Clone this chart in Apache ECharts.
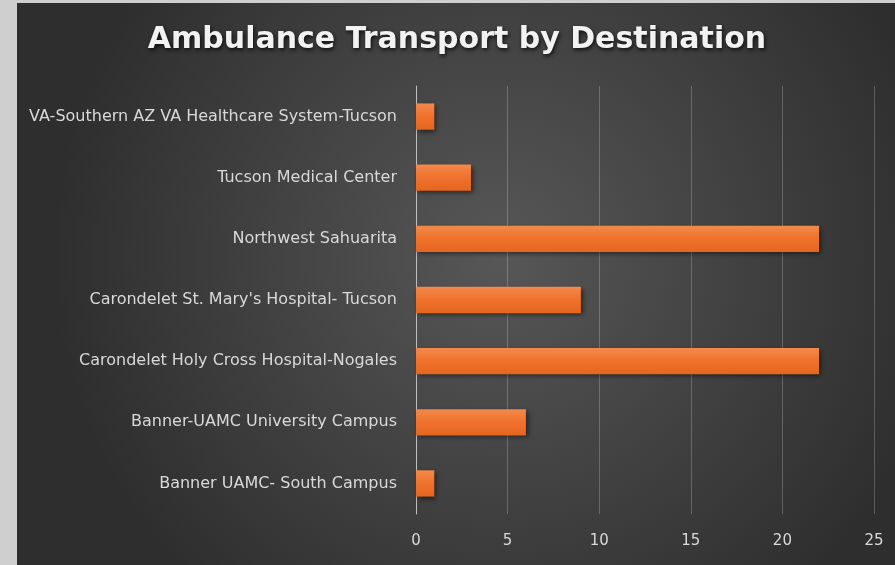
<!DOCTYPE html>
<html>
<head>
<meta charset="utf-8">
<script src="https://cdn.jsdelivr.net/npm/echarts@6/dist/echarts.min.js"></script>
<style>html,body{margin:0;padding:0;background:#cfcfcf}#c{width:895px;height:565px}</style>
</head>
<body>
<div id="c"></div>
<script>
var categories = [
  "Banner UAMC- South Campus",
  "Banner-UAMC University Campus",
  "Carondelet Holy Cross Hospital-Nogales",
  "Carondelet St. Mary's Hospital- Tucson",
  "Northwest Sahuarita",
  "Tucson Medical Center",
  "VA-Southern AZ VA Healthcare System-Tucson"
];
var values = [1, 6, 22, 9, 22, 3, 1];
var xTicks = [0, 5, 10, 15, 20, 25];

var chart = echarts.init(document.getElementById('c'));
chart.setOption({
  animation: false,
  backgroundColor: '#cfcfcf',
  graphic: [
    {type: 'rect', shape: {x: 17, y: 3, width: 878, height: 562}, z: -10,
     style: {fill: new echarts.graphic.RadialGradient(0.55, 0.45, 0.8, [
       {offset: 0, color: '#575757'}, {offset: 1, color: '#2e2e2e'}])}}
  ],
  title: {
    text: 'Ambulance Transport by Destination',
    left: 452, top: 20, textAlign: 'center',
    textStyle: {color: '#f2f2f2', fontFamily: 'DejaVu Sans', fontWeight: 'bold', fontSize: 30,
      textShadowColor: 'rgba(0,0,0,0.8)', textShadowBlur: 4, textShadowOffsetX: 1, textShadowOffsetY: 2}
  },
  grid: {left: 416, right: 21, top: 86, bottom: 51, containLabel: false},
  xAxis: {
    type: 'value', min: 0, max: 25, interval: 5,
    axisLine: {show: false}, axisTick: {show: false},
    axisLabel: {color: '#d9d9d9', fontSize: 15, fontFamily: 'DejaVu Sans', margin: 20,
      formatter: function (v) { return xTicks.indexOf(v) >= 0 ? String(v) : ''; }},
    splitLine: {lineStyle: {color: 'rgba(255,255,255,0.22)', width: 1}}
  },
  yAxis: {
    type: 'category', data: categories,
    axisLine: {show: true, lineStyle: {color: '#bfbfbf', width: 1}},
    axisTick: {show: false},
    axisLabel: {color: '#d9d9d9', fontSize: 16, fontFamily: 'DejaVu Sans', margin: 19}
  },
  series: [{
    type: 'bar', data: values, barWidth: '43%',
    itemStyle: {
      color: new echarts.graphic.LinearGradient(0, 0, 0, 1, [
        {offset: 0, color: '#f38a4b'}, {offset: 0.5, color: '#ef712b'}, {offset: 1, color: '#e5661f'}]),
      shadowColor: 'rgba(0,0,0,0.55)', shadowBlur: 5, shadowOffsetX: 2, shadowOffsetY: 2
    }
  }]
});
</script>
</body>
</html>
